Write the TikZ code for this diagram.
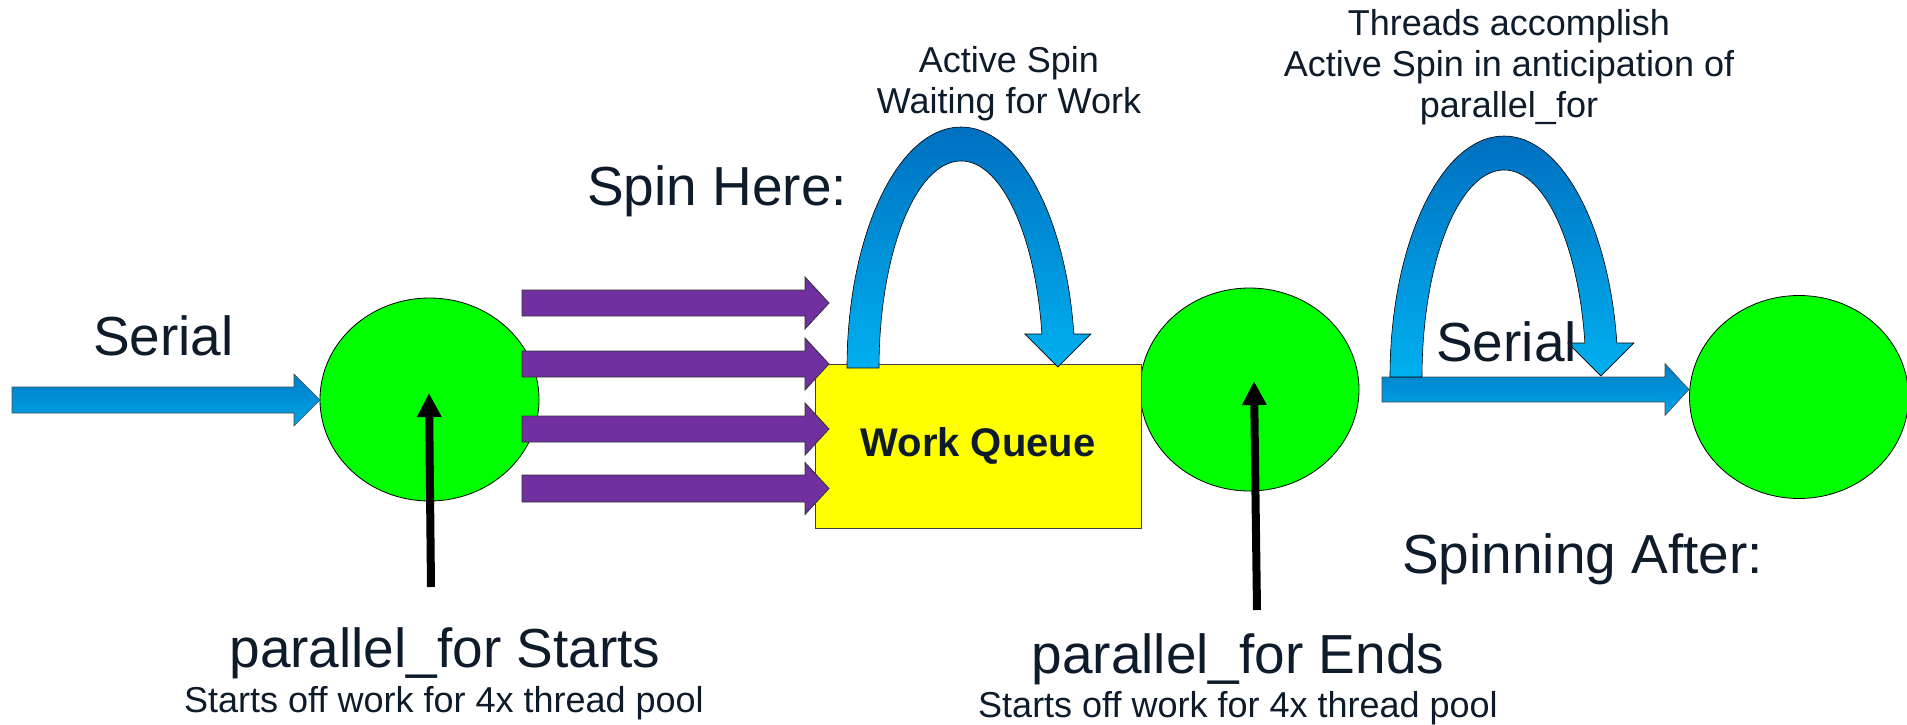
\documentclass[tikz,border=0pt]{standalone}
\usepackage{fontspec}
\setmainfont{Liberation Sans}
\usetikzlibrary{shapes.geometric,arrows.meta}
\definecolor{txt}{RGB}{13,27,42}
\definecolor{greenfill}{RGB}{0,255,0}
\definecolor{yellowfill}{RGB}{255,255,0}
\definecolor{purplefill}{RGB}{112,48,160}
\definecolor{blueTop}{RGB}{0,112,192}
\definecolor{blueBot}{RGB}{0,176,240}
\definecolor{hTop}{RGB}{0,125,200}
\definecolor{hBot}{RGB}{0,165,230}

% horizontal block arrow: style, x start, x head start, x tip, y centre, shaft half height, head half height
\newcommand{\hblock}[7]{%
  \path[#1] (#2,{#5+#6}) -- (#3,{#5+#6}) -- (#3,{#5+#7}) -- (#4,#5) -- (#3,{#5-#7}) -- (#3,{#5-#6}) -- (#2,{#5-#6}) -- cycle;}

% curved (U-turn) block arrow: style, centre x, base y
\newcommand{\archarrow}[3]{%
  \path[#1] ({#2-114},#3) arc[start angle=180,end angle=8.11,x radius=114,y radius=241]
   -- ({#2+129.9},{#3+34}) -- ({#2+96.9},{#3+1}) -- ({#2+63.9},{#3+34}) -- ({#2+80.9},{#3+34})
   arc[start angle=9.45,end angle=180,x radius=82,y radius=207] -- cycle;}

\begin{document}
\begin{tikzpicture}[x=1pt,y=1pt,line join=miter,
  circ/.style={ellipse, draw=black, line width=0.8pt, fill=greenfill, minimum width=219pt, minimum height=203pt, inner sep=0pt},
  big/.style={text=txt, font=\fontsize{55}{63}\selectfont, inner sep=0pt},
  small/.style={text=txt, font=\fontsize{36}{41}\selectfont, inner sep=0pt, align=center},
  purplearrow/.style={fill=purplefill, draw=black!80, line width=0.8pt},
  bluearrow/.style={top color=hTop, bottom color=hBot, draw=black!70, line width=0.6pt},
  arcstyle/.style={top color=blueTop, bottom color=blueBot, draw=black, line width=0.6pt},
  pointer/.style={line width=8pt, -{Triangle[length=24pt,width=23pt]}}]
\fill[white] (0,0) rectangle (1907,-725);
\useasboundingbox (0,0) rectangle (1907,-725);

% circles and work queue
\node[circ] (c1) at (429.5,-399.5) {};
\node[circ] (c2) at (1249.5,-389.5) {};
\node[circ] (c3) at (1799,-397) {};
\node[draw=black!75, line width=0.8pt, fill=yellowfill, minimum width=326pt, minimum height=164pt, inner sep=0pt, text=txt, font=\bfseries\fontsize{40}{46}\selectfont] (wq) at (978,-446) {Work Queue};

% purple thread arrows
\hblock{purplearrow}{522}{805}{829}{-303}{13}{26}
\hblock{purplearrow}{522}{805}{829}{-364}{13}{26}
\hblock{purplearrow}{522}{805}{829}{-429}{13}{26}
\hblock{purplearrow}{522}{805}{829}{-488.5}{13.5}{26}

% serial arrows
\hblock{bluearrow}{12}{294}{320}{-400}{13}{26}
\hblock{bluearrow}{1382}{1665}{1689}{-389.5}{12.5}{26}

% spin arcs
\archarrow{arcstyle}{961}{-368}
\archarrow{arcstyle}{1504}{-377}

% black pointers
\coordinate (p1) at (431,-587);
\coordinate (t1) at (429,-393);
\draw[pointer] (p1) -- (t1);
\coordinate (p2) at (1257,-610);
\coordinate (t2) at (1254,-381);
\draw[pointer] (p2) -- (t2);

% texts
\node[big, anchor=base west] (serialL) at (93,-355) {Serial};
\node[big, anchor=base west] (spinhere) at (587,-205) {Spin Here:};
\node[big, anchor=base west] (serialR) at (1436,-361) {Serial};
\node[big, anchor=base west] (spinafter) at (1402,-573) {Spinning After:};
\node[big, anchor=base] (pfs) at (445,-667) {parallel\_for Starts};
\node[small, anchor=base] (pfs2) at (444,-712) {Starts off work for 4x thread pool};
\node[big, anchor=base] (pfe) at (1238,-673) {parallel\_for Ends};
\node[small, anchor=base] (pfe2) at (1238,-717) {Starts off work for 4x thread pool};
\node[small, anchor=north] (asw) at (1009,-46.5) {Active Spin\\Waiting for Work};
\node[small, anchor=north] (thr) at (1509,-9.5) {Threads accomplish\\Active Spin in anticipation of\\parallel\_for};
\end{tikzpicture}
\end{document}
